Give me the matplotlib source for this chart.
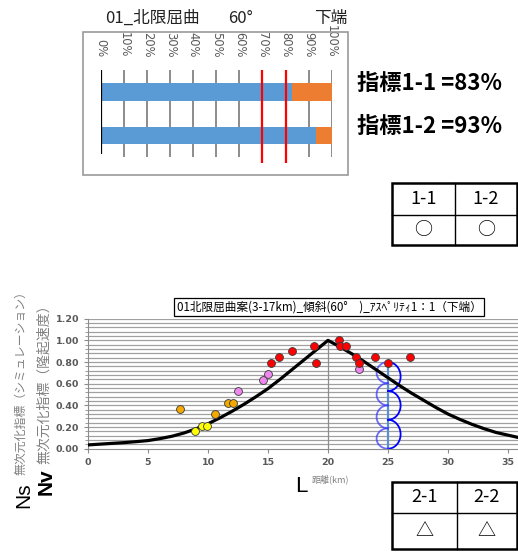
import numpy as np
import matplotlib
matplotlib.use("Agg")
import matplotlib.pyplot as plt
from matplotlib.patches import Rectangle

plt.rcParams['font.family'] = ['Noto Sans CJK JP', 'DejaVu Sans']

# ---------------- data ----------------
pct_ticks = [0, 10, 20, 30, 40, 50, 60, 70, 80, 90, 100]
indicator_names = ["指標1-1", "指標1-2"]
indicator_values = [83, 93]
thresholds = [70, 80]

table1_headers = ["1-1", "1-2"]
table1_marks = ["○", "○"]
table2_headers = ["2-1", "2-2"]
table2_marks = ["△", "△"]

curve_x = list(range(0, 37))
curve_y = [0.035, 0.042, 0.049, 0.056, 0.065, 0.075, 0.093, 0.115, 0.145, 0.183,
           0.23, 0.285, 0.345, 0.41, 0.48, 0.555, 0.64, 0.73, 0.82, 0.91,
           1.0, 0.94, 0.875, 0.805, 0.73, 0.655, 0.58, 0.51, 0.445, 0.38,
           0.32, 0.27, 0.225, 0.185, 0.15, 0.125, 0.10]
peak_x = 20

orange_x = [7.67, 10.6, 11.7, 12.05]
orange_y = [0.37, 0.32, 0.425, 0.425]
yellow_x = [8.9, 9.5, 9.9]
yellow_y = [0.163, 0.212, 0.212]
pink_x = [12.5, 14.6, 15.0, 22.6]
pink_y = [0.533, 0.637, 0.687, 0.736]
red_x = [15.25, 15.95, 17.0, 18.83, 19.0, 20.9, 20.97, 21.5, 22.3, 22.6, 23.9, 25.0, 26.8]
red_y = [0.794, 0.844, 0.90, 0.95, 0.794, 1.004, 0.95, 0.95, 0.844, 0.794, 0.844, 0.794, 0.844]

loop_x = 25
loop_top = 0.80
right_joints = [0.80, 0.533, 0.267, 0.0]
left_joints = [0.80, 0.604, 0.40, 0.188, 0.0]

W, H = 518, 552
fig = plt.figure(figsize=(W / 100, H / 100), dpi=100)
fig.patch.set_facecolor('white')


def px_axes(l, t, r, b):
    return fig.add_axes([l / W, (H - b) / H, (r - l) / W, (b - t) / H])


# ---------------- top bar chart ----------------
axb = px_axes(101, 70, 331.7, 163)
ytop, ybot = -0.508, 1.64
axb.set_xlim(0, 100)
axb.set_ylim(ybot, ytop)
axb.vlines(pct_ticks[1:], ytop, 1.50, color='#8c8c8c', lw=1.4, zorder=1)
axb.vlines(0, ytop, 1.43, color='black', lw=1.6, zorder=4)
idx = np.arange(len(indicator_values))
vals = np.array(indicator_values)
axb.barh(idx, vals, height=0.40, color='#5B9BD5', zorder=2)
axb.barh(idx, 100 - vals, left=vals, height=0.40, color='#ED7D31', zorder=2)
axb.vlines(thresholds, ytop, ybot, color='#FF0000', lw=1.6, zorder=5)
axb.xaxis.tick_top()
axb.set_xticks(pct_ticks)
axb.set_xticklabels([f"{t}%" for t in pct_ticks], rotation=-90, fontsize=8.3,
                    color='#595959', family=['DejaVu Sans'])
axb.tick_params(axis='x', length=0, pad=9)
axb.set_yticks([])
for s in axb.spines.values():
    s.set_visible(False)

# ---------------- bottom scatter chart ----------------
axs = px_axes(88, 318.7, 518, 448.7)
axs.set_xlim(0, 430 / 12)
axs.set_ylim(0, 1.2)
for yy in np.arange(0.04, 1.2001, 0.04):
    axs.axhline(yy, color='#a0a0a0', lw=0.9, zorder=0)
axs.vlines(peak_x, 0, max(curve_y), color='#8c8c8c', lw=0.9, zorder=1)
axs.plot(curve_x, curve_y, color='black', lw=2.3, zorder=3)

# blue loops
axs.vlines(loop_x, 0, loop_top, color='#5B8FD5', lw=1.6, zorder=2)
th = np.linspace(-np.pi / 2, np.pi / 2, 60)
for y1, y2 in zip(right_joints[:-1], right_joints[1:]):
    mid, b = (y1 + y2) / 2, (y1 - y2) / 2
    axs.plot(loop_x + 1.05 * np.cos(th), mid + b * np.sin(th), color='#0000FF', lw=1.3, zorder=2)
for y1, y2 in zip(left_joints[:-1], left_joints[1:]):
    mid, b = (y1 + y2) / 2, (y1 - y2) / 2
    axs.plot(loop_x - 0.95 * np.cos(th), mid + b * np.sin(th), color='#3a3aff', lw=1.3,
             alpha=0.75, zorder=2)

kw = dict(s=32, edgecolors='#3a3a3a', linewidths=0.6, zorder=6)
axs.scatter(orange_x, orange_y, c='#F5A800', **kw)
axs.scatter(yellow_x, yellow_y, c='#FFFF00', **kw)
axs.scatter(pink_x, pink_y, c='#EE88EE', **kw)
axs.scatter(red_x, red_y, c='#FF0000', **kw)

axs.set_xticks(range(0, 36, 5))
axs.set_yticks(np.arange(0, 1.21, 0.2))
axs.set_yticks(np.arange(0, 1.21, 0.04), minor=True)
axs.set_yticklabels([f"{v:.2f}" for v in np.arange(0, 1.21, 0.2)])
axs.tick_params(axis='both', labelsize=6.8, labelcolor='#595959', color='#8c8c8c',
                length=3, width=0.8)
axs.tick_params(axis='y', which='minor', length=2.5, color='#8c8c8c')
for lab in axs.get_xticklabels() + axs.get_yticklabels():
    lab.set_family(['DejaVu Sans'])
    lab.set_fontweight('bold')
axs.spines['top'].set_visible(False)
axs.spines['right'].set_visible(False)
axs.spines['left'].set_color('#8c8c8c')
axs.spines['bottom'].set_color('#8c8c8c')

# ---------------- overlay (text, boxes, tables) ----------------
ov = fig.add_axes([0, 0, 1, 1])
ov.set_xlim(0, W)
ov.set_ylim(H, 0)
ov.axis('off')
ov.patch.set_alpha(0)

ov.add_patch(Rectangle((83.3, 32.3), 265, 142.7, fill=False, ec='#999999', lw=1.2))
ov.text(105, 18.5, "01_北限屈曲", fontsize=12, va='center', ha='left', color='#222222')
ov.text(228, 18.5, "60°", fontsize=12, va='center', ha='left', color='#222222')
ov.text(347, 18.5, "下端", fontsize=12, va='center', ha='right', color='#222222')

for i, (n, v) in enumerate(zip(indicator_names, indicator_values)):
    ov.text(357, 84 + i * 42.7, f"{n} ={v}%", fontsize=16, fontweight='bold',
            va='center', ha='left', color='black')


def draw_table(x0, xm, x1, y0, ym, y1, headers, marks):
    ov.add_patch(Rectangle((x0, y0), x1 - x0, y1 - y0, fill=False, ec='black', lw=1.8))
    ov.plot([xm, xm], [y0, y1], color='black', lw=1.0)
    ov.plot([x0, x1], [ym, ym], color='black', lw=1.0)
    for cx, h, m in zip([(x0 + xm) / 2, (xm + x1) / 2], headers, marks):
        ov.text(cx, (y0 + ym) / 2, h, fontsize=13, ha='center', va='center')
        ov.text(cx, (ym + y1) / 2, m, fontsize=13, ha='center', va='center')


draw_table(392, 455, 516.5, 183.3, 215, 245, table1_headers, table1_marks)
draw_table(392.3, 457.3, 516.5, 482.3, 512.7, 549, table2_headers, table2_marks)

ov.text(329, 307, "01北限屈曲案(3-17km)_傾斜(60°\u3000)_ｱｽﾍﾟﾘﾃｨ1：1（下端）", fontsize=8.4,
        ha='center', va='center',
        bbox=dict(boxstyle='square,pad=0.25', fc='white', ec='black', lw=0.9))

ov.text(21, 380, "無次元化指標（シミュレーション）", fontsize=8.6, rotation=90,
        ha='center', va='center', color='#808080')
ov.text(23.5, 495, "Ns", fontsize=15, rotation=90, ha='center', va='center',
        family=['Liberation Sans'], color='black')
ov.text(44, 381, "無次元化指標（隆起速度）", fontsize=10, rotation=90,
        ha='center', va='center', color='#808080')
ov.text(46.5, 481.5, "Nv", fontsize=15, rotation=90, ha='center', va='center',
        family=['Liberation Sans'], fontweight='bold', color='black')
ov.text(301, 487, "L", fontsize=16, ha='center', va='center', family=['Liberation Sans'])
ov.text(312, 479, "距離(km)", fontsize=6.5, ha='left', va='center', color='#808080')

fig.savefig("out.png", dpi=100)
